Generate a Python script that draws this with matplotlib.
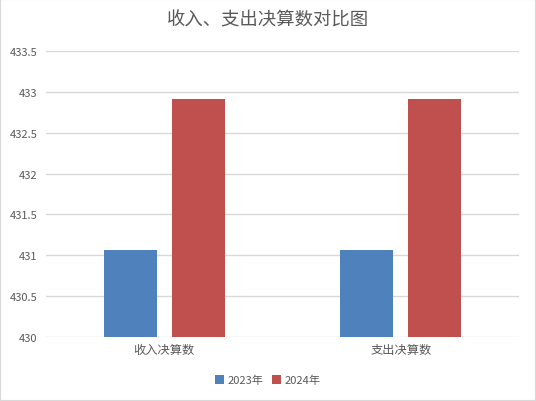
import matplotlib
matplotlib.use("Agg")
import matplotlib.pyplot as plt
import numpy as np
from matplotlib.patches import Rectangle

plt.rcParams['font.family'] = ['Noto Sans CJK SC', 'DejaVu Sans']

categories = ["收入决算数", "支出决算数"]
series_names = ["2023年", "2024年"]
values_2023 = [431.07, 431.07]
values_2024 = [432.91, 432.91]
yticks = [430, 430.5, 431, 431.5, 432, 432.5, 433, 433.5]
colors = ["#4F81BD", "#C0504D"]

fig = plt.figure(figsize=(5.36, 4.02), dpi=100)
fig.patches.append(Rectangle((0, 0), 1, 1, transform=fig.transFigure,
                             fill=False, edgecolor="#D9D9D9", linewidth=1.5))
ax = fig.add_axes([46/536, 1-338.3/402, (519-46)/536, (338.3-51.7)/402])

x = np.arange(len(categories))
w = 0.224
off = 0.144
ax.bar(x - off, values_2023, w, color=colors[0], label=series_names[0], zorder=3)
ax.bar(x + off, values_2024, w, color=colors[1], label=series_names[1], zorder=3)

ax.set_xlim(-0.5, 1.5)
ax.set_ylim(430, 433.5)
ax.set_yticks(yticks)
ax.set_yticklabels([f"{t:g}" for t in yticks])
ax.set_xticks(x)
ax.set_xticklabels(categories)
ax.yaxis.grid(True, color="#D9D9D9", linewidth=1, zorder=0)
for s in ax.spines.values():
    s.set_visible(False)
ax.tick_params(axis='y', length=0, labelsize=8, colors="#595959", pad=6)
ax.tick_params(axis='x', length=0, labelsize=8.8, colors="#595959", pad=4)

fig.text(0.5, 1-20/402, "收入、支出决算数对比图", ha='center', va='center',
         fontsize=13.2, color="#595959")
fig.legend(loc='center', bbox_to_anchor=(0.5, 1-381/402), ncol=2, frameon=False,
           fontsize=8, handlelength=0.8, handleheight=0.8, handletextpad=0.3,
           columnspacing=0.8, labelcolor="#595959")

fig.savefig("out.png", dpi=100)
